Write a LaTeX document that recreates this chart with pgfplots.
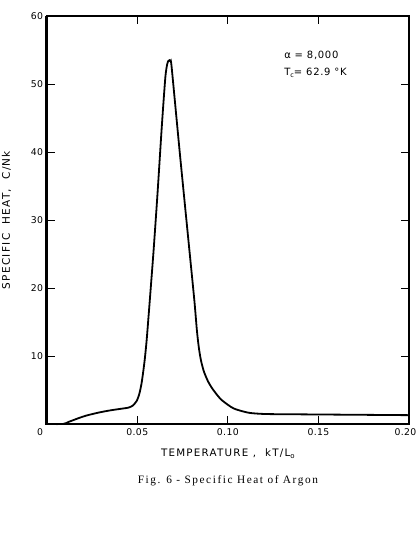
\documentclass[border=0pt]{standalone}
\usepackage{pgfplots}
\pgfplotsset{compat=1.18}
\usepackage{fontspec}
\setmainfont{DejaVu Sans}
\newfontfamily\capfont[LetterSpace=14]{Liberation Serif}
\newfontfamily\labfont[LetterSpace=12]{DejaVu Sans}
\newfontfamily\tickfont[LetterSpace=4]{DejaVu Sans}
\newfontfamily\annfont[LetterSpace=7]{DejaVu Sans}
\begin{document}
\begin{tikzpicture}[x=1pt,y=1pt]
\useasboundingbox (-46.7,-120) rectangle (371.3,424);
\begin{axis}[
  at={(0,0)}, anchor=south west,
  scale only axis, width=362.3pt, height=408pt,
  xmin=0, xmax=0.2, ymin=0, ymax=60,
  xtick={0.05,0.1,0.15,0.2},
  xticklabels={0.05,0.10,0.15,\hspace*{-7pt}0.20},
  ytick={10,20,30,40,50,60},
  tick align=inside,
  major tick length=8pt,
  tick style={black, line width=1pt},
  axis line style={line width=1.3pt},
  xticklabel style={font=\tickfont\fontsize{9.3}{11}\selectfont, yshift=-1pt},
  yticklabel style={font=\tickfont\fontsize{9.3}{11}\selectfont},
  /pgf/number format/assume math mode=true,
  clip=false,
  xlabel={\labfont\fontsize{10.3}{12}\selectfont TEMPERATURE ,\ \ kT/L\raisebox{-0.4ex}{\fontsize{7}{8}\selectfont o}},
  xlabel style={yshift=-6pt},
  ylabel={\labfont\fontsize{10.5}{12}\selectfont SPECIFIC\ \ HEAT,\ \ C/Nk},
  ylabel style={yshift=13pt},
]
\addplot[black, line width=1.8pt, smooth, tension=0.4] coordinates {
(0,0) (0.009,0) (0.012,0.3) (0.015,0.6) (0.018,0.9) (0.022,1.25) (0.029,1.7)
(0.035,2.0) (0.040,2.2) (0.045,2.4) (0.0475,2.7) (0.0497,3.4) (0.0512,4.5)
(0.0525,6.2) (0.0540,9.2) (0.0552,12.4) (0.0570,18.5) (0.0590,25.5) (0.0612,34.0)
(0.0636,44.0) (0.0655,51.0) (0.0665,52.9) (0.0672,53.4) (0.0678,53.5) (0.0684,53.3)
(0.0690,52.4) (0.0735,39.8) (0.0782,27.1) (0.0815,18.2) (0.0829,13.8) (0.0840,11.2)
(0.0852,9.3) (0.0868,7.7) (0.0890,6.3) (0.0912,5.3) (0.0940,4.3) (0.0967,3.5)
(0.1031,2.3) (0.1114,1.66) (0.1206,1.47) (0.14,1.42) (0.2,1.3)
};
\draw[line width=2.4pt] (rel axis cs:0,1) -- (rel axis cs:0,0) -- (rel axis cs:1,0);
\node[font=\tickfont\fontsize{9.3}{11}\selectfont] at (rel axis cs:0,0) [xshift=-6.7pt, yshift=-7.7pt] {0};
\node[anchor=west, font=\annfont\fontsize{10}{12}\selectfont] at (rel axis cs:0.646,0.904) {α = 8,000};
\node[anchor=west, font=\annfont\fontsize{10}{12}\selectfont] at (rel axis cs:0.646,0.861) {T\raisebox{-0.4ex}{\fontsize{6.5}{8}\selectfont c}= 62.9 °K};
\node[font=\capfont\fontsize{11.3}{13}\selectfont] at (rel axis cs:0.5,0) [yshift=-56.7pt] {Fig. 6 - Specific Heat of Argon};
\end{axis}
\end{tikzpicture}
\end{document}
